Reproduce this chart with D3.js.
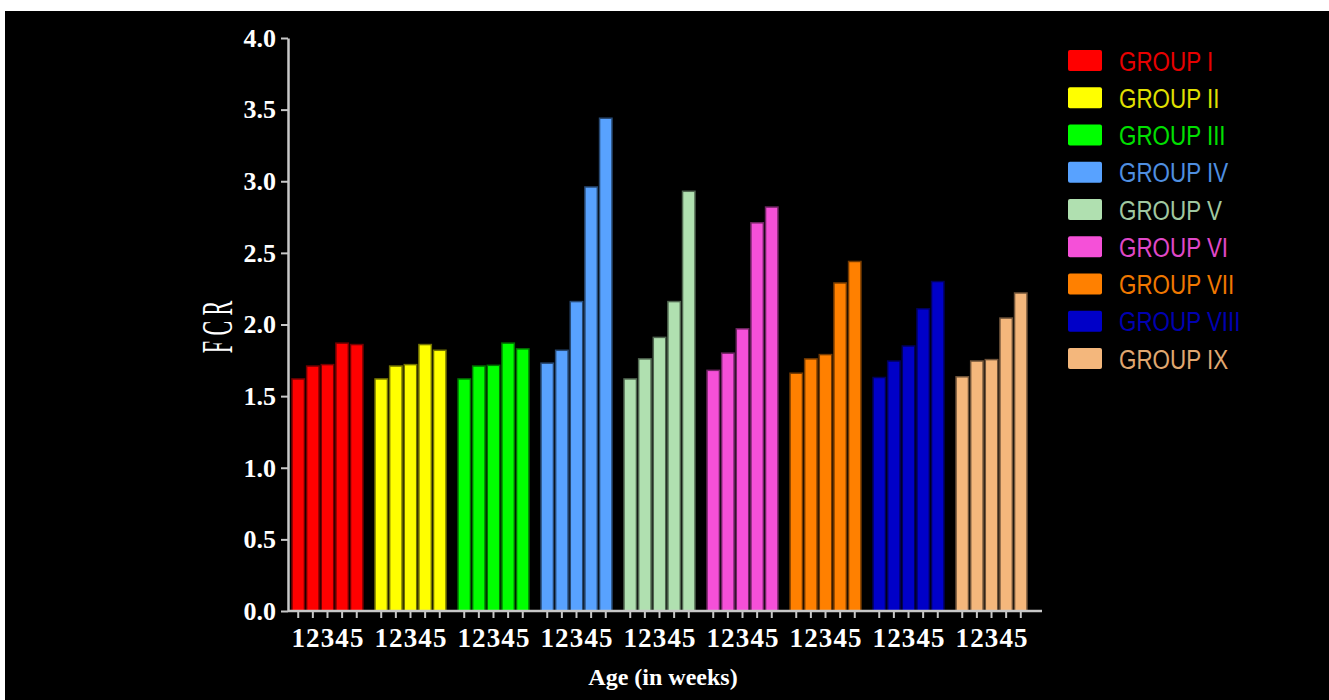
<!DOCTYPE html>
<html>
<head>
<meta charset="utf-8">
<script src="https://cdn.jsdelivr.net/npm/d3@7"></script>
<style>
  html, body { margin: 0; padding: 0; background: #ffffff; }
  svg { display: block; }
</style>
</head>
<body>
<svg id="chart" width="1329" height="700"></svg>
<script>
// ---- data ----
const groups = ["GROUP I", "GROUP II", "GROUP III", "GROUP IV", "GROUP V", "GROUP VI", "GROUP VII", "GROUP VIII", "GROUP IX"];
const weeks = ["1", "2", "3", "4", "5"];
const groupI    = [1.62, 1.71, 1.72, 1.87, 1.86];
const groupII   = [1.62, 1.71, 1.72, 1.86, 1.82];
const groupIII  = [1.62, 1.71, 1.715, 1.87, 1.83];
const groupIV   = [1.73, 1.82, 2.16, 2.96, 3.44];
const groupV    = [1.62, 1.76, 1.91, 2.16, 2.93];
const groupVI   = [1.68, 1.80, 1.97, 2.71, 2.82];
const groupVII  = [1.66, 1.76, 1.79, 2.29, 2.44];
const groupVIII = [1.63, 1.745, 1.85, 2.11, 2.30];
const groupIX   = [1.635, 1.745, 1.755, 2.045, 2.22];
const seriesValues = [groupI, groupII, groupIII, groupIV, groupV, groupVI, groupVII, groupVIII, groupIX];
const colors = ["#ff0000", "#ffff00", "#00ff00", "#58a2ff", "#b0e0b0", "#f550d8", "#ff8000", "#0000c8", "#f4b77c"];
const textColors = ["#e80000", "#e0e000", "#00e000", "#4f8fe0", "#a0c8a0", "#e048c8", "#f07800", "#0000b0", "#e0a870"];
const yTicks = [0, 0.5, 1.0, 1.5, 2.0, 2.5, 3.0, 3.5, 4.0];
const yLabel = "F C R";
const xLabel = "Age (in weeks)";

// ---- layout ----
const svg = d3.select("#chart");
svg.append("rect").attr("x", 5).attr("y", 11).attr("width", 1324).attr("height", 689).attr("fill", "#000");

const axisX = 288, baseY = 611, topY = 38;
const y = d3.scaleLinear().domain([0, 4]).range([baseY, topY]);
const xGroup = d3.scaleBand().domain(groups).range([292, 1027]).paddingInner(0.145).paddingOuter(0);
const xWeek = d3.scaleBand().domain(weeks).range([0, xGroup.bandwidth()]).paddingInner(0.15).paddingOuter(0);

const serif = "'Liberation Serif', 'Times New Roman', serif";
const axisColor = "#c8c8c8";

// bars
groups.forEach((g, gi) => {
  const gg = svg.append("g").attr("transform", `translate(${xGroup(g)},0)`);
  gg.selectAll("rect")
    .data(weeks.map((w, i) => ({ w, v: seriesValues[gi][i] })))
    .join("rect")
    .attr("x", d => xWeek(d.w))
    .attr("y", d => y(d.v))
    .attr("width", xWeek.bandwidth())
    .attr("height", d => baseY - y(d.v))
    .attr("fill", colors[gi])
    .attr("stroke", d3.color(colors[gi]).darker(2.2))
    .attr("stroke-width", 1.5);

  // x axis ticks per group
  const ax = gg.append("g").attr("transform", `translate(0,${baseY})`)
    .call(d3.axisBottom(xWeek).tickSize(7).tickSizeOuter(0).tickPadding(10));
  ax.select(".domain").remove();
  ax.selectAll(".tick line").attr("stroke", axisColor).attr("stroke-width", 2);
  ax.selectAll(".tick text").attr("fill", "#fff").attr("font-family", serif)
    .attr("font-weight", "bold").attr("font-size", 27);
});

// x axis baseline
svg.append("line").attr("x1", axisX).attr("x2", xGroup.range()[1] + 15)
  .attr("y1", baseY).attr("y2", baseY).attr("stroke", axisColor).attr("stroke-width", 2.5);

// y axis
const yAx = svg.append("g").attr("transform", `translate(${axisX},0)`)
  .call(d3.axisLeft(y).tickValues(yTicks).tickFormat(d3.format(".1f")).tickSize(7).tickSizeOuter(0).tickPadding(5));
yAx.select(".domain").attr("stroke", axisColor).attr("stroke-width", 2.5);
yAx.selectAll(".tick line").attr("stroke", axisColor).attr("stroke-width", 2);
yAx.selectAll(".tick text").attr("fill", "#fff").attr("font-family", serif)
  .attr("font-weight", "bold").attr("font-size", 26);

// y label
svg.append("text")
  .attr("transform", `translate(232,327) rotate(-90) scale(0.5,1)`)
  .attr("text-anchor", "middle")
  .attr("fill", "#fff").attr("font-family", serif).attr("font-size", 44)
  .text(yLabel);

// x label
svg.append("text")
  .attr("x", 663).attr("y", 685)
  .attr("text-anchor", "middle")
  .attr("fill", "#fff").attr("font-family", serif).attr("font-weight", "bold").attr("font-size", 24)
  .text(xLabel);

// legend
const leg = svg.append("g");
groups.forEach((g, i) => {
  const yy = 50 + i * 37.25;
  leg.append("rect").attr("x", 1068).attr("y", yy).attr("width", 34).attr("height", 21)
    .attr("rx", 2).attr("fill", colors[i]);
  leg.append("text")
    .attr("transform", `translate(1119,${yy + 20.5}) scale(0.8,1)`)
    .attr("fill", textColors[i]).attr("font-family", "'Liberation Sans', Arial, sans-serif")
    .attr("font-size", 28)
    .text(g);
});
</script>
</body>
</html>
